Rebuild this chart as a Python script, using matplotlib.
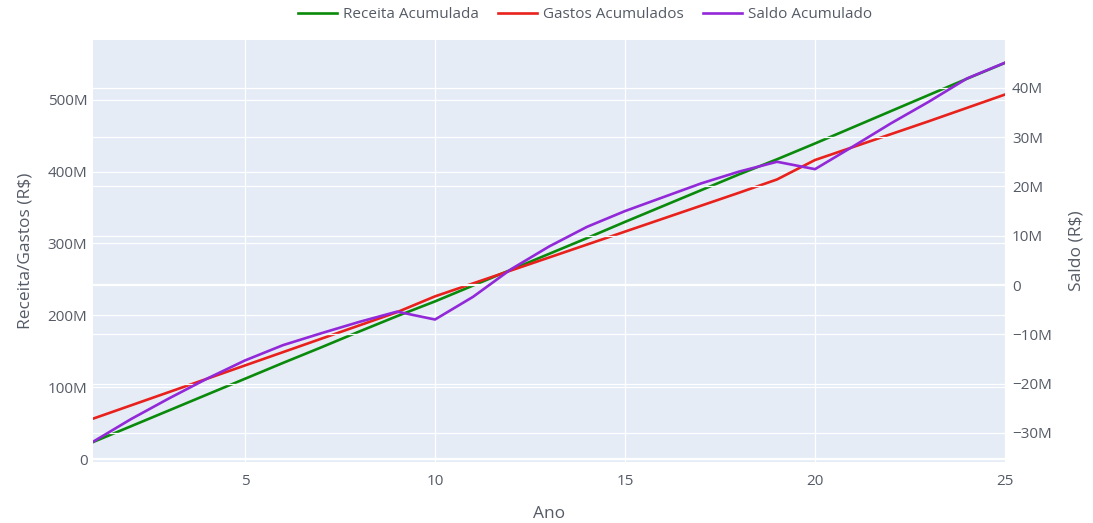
import matplotlib
matplotlib.use("Agg")
import matplotlib.pyplot as plt
from matplotlib.ticker import FuncFormatter, FixedLocator

# ---- data (values in millions of R$) ----
anos = list(range(1, 26))
receita_acumulada = [24, 46, 68, 90, 112, 134, 155.5, 177.5, 199, 219.5,
                     241.5, 263.5, 285.5, 307.5, 330, 352, 374, 396, 417, 439,
                     461.5, 484, 506.5, 529, 551]
gastos_acumulados = [56.5, 75, 93.5, 112, 130.5, 149, 167.5, 186, 204.5, 226.5,
                     244.5, 262.5, 280.5, 298.5, 316.5, 334.5, 352.5, 370.5, 389, 416,
                     434, 452, 470, 488.5, 507]
saldo_acumulado = [-31.8, -27.2, -23.0, -19.0, -15.3, -12.2, -9.8, -7.5, -5.4, -7.0,
                   -2.4, 3.2, 7.8, 11.8, 15.0, 17.8, 20.6, 23.0, 25.0, 23.5,
                   28.1, 32.8, 37.2, 41.9, 45.1]

x_ticks = [5, 10, 15, 20, 25]
left_ticks = [0, 100, 200, 300, 400, 500]
right_ticks = [-30, -20, -10, 0, 10, 20, 30, 40]

serie_nomes = ["Receita Acumulada", "Gastos Acumulados", "Saldo Acumulado"]
x_label = "Ano"
y_left_label = "Receita/Gastos (R$)"
y_right_label = "Saldo (R$)"

# ---- style ----
plt.rcParams['font.family'] = ['Open Sans', 'DejaVu Sans']
TXT = '#555b66'
BG = '#e5ecf6'
c_green = '#0a8a0a'
c_red = '#e8211c'
c_purple = '#9228d8'

W, H = 1093, 523
fig = plt.figure(figsize=(W / 100, H / 100), dpi=100)
left, right = 93 / W, 1005 / W
top, bottom = 40 / H, 461.5 / H
ax = fig.add_axes([left, 1 - bottom, right - left, bottom - top])
ax2 = ax.twinx()

ax.set_facecolor(BG)
ax2.set_facecolor('none')
for a in (ax, ax2):
    for s in a.spines.values():
        s.set_visible(False)
    a.tick_params(length=0, colors=TXT, labelsize=11)

def fmt(v, pos=None):
    if abs(v) < 1e-9:
        return '0'
    s = f"{abs(v):.0f}M"
    return ('\u2212' + s) if v < 0 else s

ax.set_xlim(1, 25)
ax.set_ylim(-3, 582.8)
ax2.set_ylim(-35.8, 49.7)

ax.xaxis.set_major_locator(FixedLocator(x_ticks))
ax.yaxis.set_major_locator(FixedLocator(left_ticks))
ax2.yaxis.set_major_locator(FixedLocator(right_ticks))
ax.yaxis.set_major_formatter(FuncFormatter(fmt))
ax2.yaxis.set_major_formatter(FuncFormatter(fmt))
ax.tick_params(axis='x', pad=9)
ax.tick_params(axis='y', pad=4)
ax2.tick_params(axis='y', pad=5)

# grid lines (both axes, plotly style)
ax.set_axisbelow(True)
ax.grid(True, color='white', linewidth=0.9)
for t in right_ticks:
    ax2.axhline(t, color='white', linewidth=1.6 if t == 0 else 0.9, zorder=0)
ax.axhline(0, color='white', linewidth=1.6, zorder=0.5)

l1, = ax.plot(anos, receita_acumulada, color=c_green, lw=1.9, label=serie_nomes[0], zorder=3)
l2, = ax.plot(anos, gastos_acumulados, color=c_red, lw=1.9, label=serie_nomes[1], zorder=3)
l3, = ax2.plot(anos, saldo_acumulado, color=c_purple, lw=1.9, label=serie_nomes[2], zorder=3)

ax.set_xlabel(x_label, color=TXT, fontsize=12.5, labelpad=12)
ax.set_ylabel(y_left_label, color=TXT, fontsize=12.5, labelpad=10)
ax2.set_ylabel(y_right_label, color=TXT, fontsize=12.5, labelpad=12)

leg = fig.legend(handles=[l1, l2, l3], loc='center', bbox_to_anchor=(585 / W, 1 - 15 / H),
                 ncol=3, frameon=False, fontsize=11, handlelength=2.6, columnspacing=1.2,
                 handletextpad=0.4)
for t in leg.get_texts():
    t.set_color(TXT)

fig.savefig('out.png', dpi=100, facecolor='white')
